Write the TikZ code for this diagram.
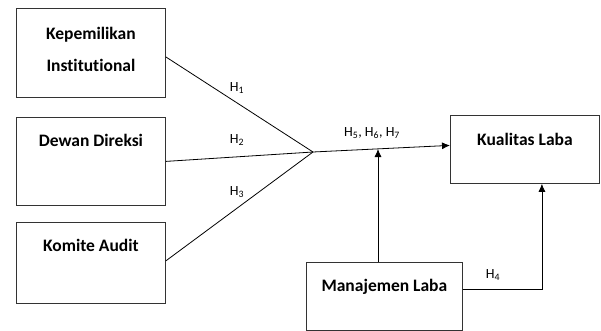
\documentclass[tikz,border=0pt]{standalone}
\usepackage{fontspec}
\setmainfont{Carlito}[Ligatures=NoCommon]
\usetikzlibrary{arrows.meta}
\begin{document}
\begin{tikzpicture}[x=1pt, y=-1pt,
		box/.style={draw=black!80, line width=0.8pt, minimum width=149pt, anchor=north west, align=center, font=\bfseries\fontsize{17.5}{32}\selectfont, text height=12pt},
		hlab/.style={font=\fontsize{14}{16}\selectfont},
		link/.style={line width=0.8pt, -{Latex[length=8pt, width=7pt]}}]

		\useasboundingbox (0,0) rectangle (601,331);

		\node[box, minimum height=89pt, text height=40pt, text depth=3pt] (KI) at (16, 8) {Kepemilikan\\Institutional};
		\node[box, minimum height=88pt, text depth=42pt] (DD) at (16, 117) {Dewan Direksi};
		\node[box, minimum height=81pt, text depth=35pt] (KA) at (16, 222) {Komite Audit};
		\node[box, minimum height=68pt, text depth=20pt] (KL) at (450, 115) {Kualitas Laba};
		\node[box, minimum width=156pt, minimum height=68pt, text depth=22pt] (ML) at (306, 262) {Manajemen Laba};

		\coordinate (J) at (313, 152);
		\coordinate (M) at (378, 149);

		\draw[line width=0.8pt] ([yshift=-4pt]KI.east) -- (J);
		\draw[line width=0.8pt] (DD.east) -- (J);
		\draw[line width=0.8pt] ([yshift=2pt]KA.east) -- (J);
		\draw[link] (J) -- ([yshift=4pt]KL.west);
		\draw[link] (ML.north -| M) -- (M);
		\draw[link] ([yshift=7pt]ML.east) -| ([xshift=17pt]KL.south);

		\node[hlab] (h1) at (237, 88) {H\textsubscript{1}};
		\node[hlab] (h2) at (237, 140) {H\textsubscript{2}};
		\node[hlab] (h3) at (237, 192) {H\textsubscript{3}};
		\node[hlab] (h567) at (372, 133) {H\textsubscript{5}, H\textsubscript{6}, H\textsubscript{7}};
		\node[hlab] (h4) at (493, 275) {H\textsubscript{4}};

	\end{tikzpicture}
\end{document}
